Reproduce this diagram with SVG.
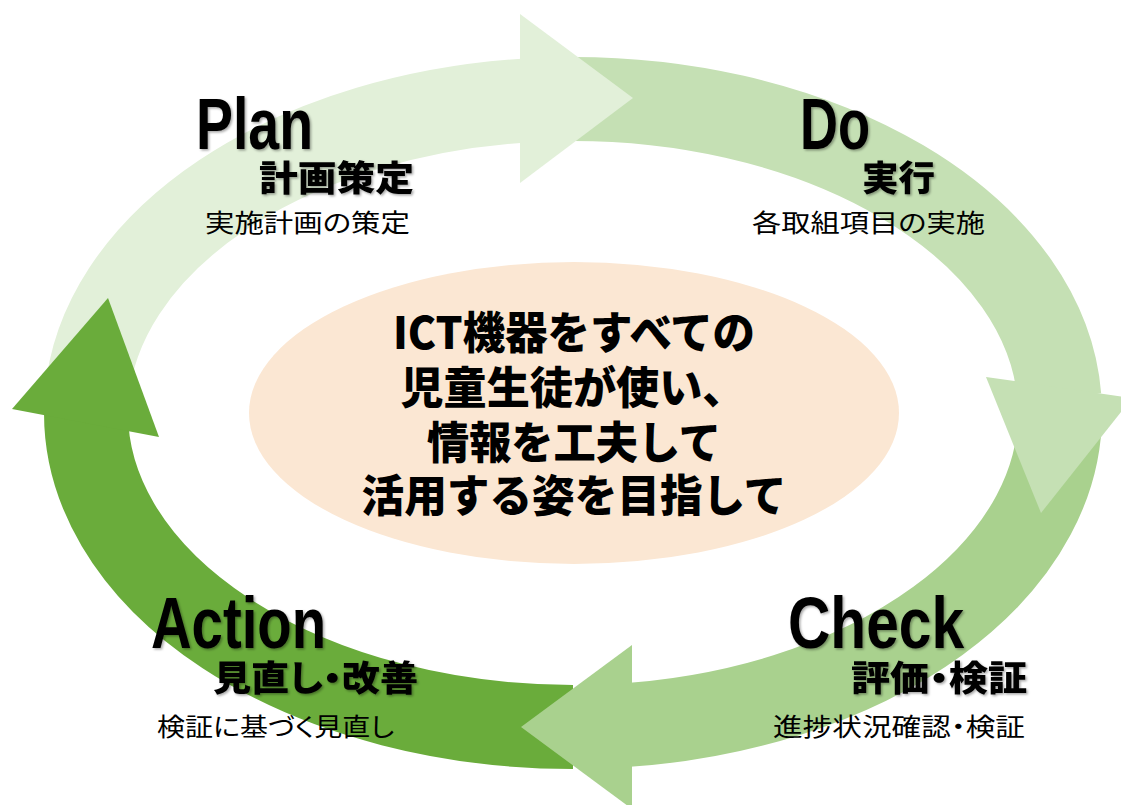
<svg xmlns="http://www.w3.org/2000/svg" width="1121" height="805" viewBox="0 0 1121 805">
<defs>
<style>
.shaft{fill:none;stroke-width:84;stroke-linecap:butt}
.en{font-family:"Liberation Sans",Arial,sans-serif;font-weight:bold;font-size:72px;fill:#000}
.jb{font-family:"Noto Sans CJK JP",sans-serif;font-weight:900;font-size:35px;fill:#000;font-feature-settings:"palt"}
.js{font-family:"Noto Sans CJK JP",sans-serif;font-weight:400;font-size:25px;fill:#000;font-feature-settings:"palt"}
.ct{font-family:"Noto Sans CJK JP",sans-serif;font-weight:900;font-size:44px;fill:#000;text-anchor:middle}
.sh{filter:url(#shadow)}
</style>
<filter id="shadow" x="-10%" y="-20%" width="130%" height="150%">
<feDropShadow dx="1.5" dy="1.5" stdDeviation="1.3" flood-color="#000" flood-opacity="0.35"/>
</filter>
</defs>
<rect width="1121" height="805" fill="#fff"/>
<g id="connectors">
<path class="shaft" stroke="#E2F0D9" d="M86.7,396.6 A487,314 0 0 1 530.6,100.2"/>
<path class="shaft" stroke="#C5E0B4" d="M556,99.2 A487,314 0 0 1 1059.3,396.6"/>
<path class="shaft" stroke="#A9D18E" d="M1059.7,402 A487,314 0 0 1 615.4,725.8"/>
<path class="shaft" stroke="#6AAC3B" d="M573,727 A487,314 0 0 1 86.1,407.5"/>
<polygon fill="#E2F0D9" points="520,14 633,98 520,183"/>
<polygon fill="#C5E0B4" points="986,377 1132,398 1041,513"/>
<polygon fill="#A9D18E" points="632,645 521,727 632,809"/>
<polygon fill="#6AAC3B" points="12,409 108,298 159,437"/>
</g>
<g id="center">
<ellipse cx="574" cy="413" rx="325" ry="151" fill="#FBE7D3"/>
<text class="ct" x="574" y="349" textLength="362" lengthAdjust="spacingAndGlyphs">ICT機器をすべての</text>
<text class="ct" x="573" y="404" textLength="345" lengthAdjust="spacingAndGlyphs">児童生徒が使い、</text>
<text class="ct" x="574" y="459" textLength="294" lengthAdjust="spacingAndGlyphs">情報を工夫して</text>
<text class="ct" x="574" y="512" textLength="425" lengthAdjust="spacingAndGlyphs">活用する姿を目指して</text>
</g>
<g id="plan">
<text class="en sh" x="196" y="149" textLength="117" lengthAdjust="spacingAndGlyphs">Plan</text>
<text class="jb sh" x="259" y="191" textLength="155" lengthAdjust="spacingAndGlyphs">計画策定</text>
<text class="js" x="205" y="232" textLength="205" lengthAdjust="spacingAndGlyphs">実施計画の策定</text>
</g>
<g id="do">
<text class="en sh" x="800" y="149" textLength="70" lengthAdjust="spacingAndGlyphs">Do</text>
<text class="jb sh" x="862" y="191" textLength="73" lengthAdjust="spacingAndGlyphs">実行</text>
<text class="js" x="752" y="232" textLength="233" lengthAdjust="spacingAndGlyphs">各取組項目の実施</text>
</g>
<g id="check">
<text class="en sh" x="788" y="648" textLength="176" lengthAdjust="spacingAndGlyphs">Check</text>
<text class="jb sh" x="851" y="691" textLength="176" lengthAdjust="spacingAndGlyphs">評価・検証</text>
<text class="js" x="773" y="736" textLength="252" lengthAdjust="spacingAndGlyphs">進捗状況確認・検証</text>
</g>
<g id="action">
<text class="en sh" x="151" y="648" textLength="175" lengthAdjust="spacingAndGlyphs">Action</text>
<text class="jb sh" x="213" y="691" textLength="205" lengthAdjust="spacingAndGlyphs">見直し・改善</text>
<text class="js" x="157" y="736" textLength="237" lengthAdjust="spacingAndGlyphs">検証に基づく見直し</text>
</g>
</svg>
